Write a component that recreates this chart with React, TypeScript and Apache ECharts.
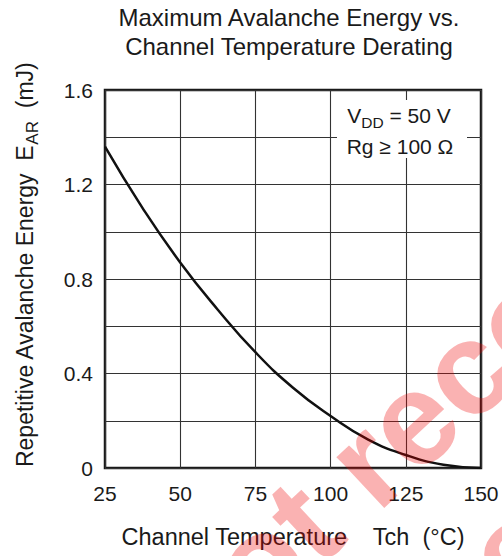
import React, { useEffect, useRef } from "react";
import * as echarts from "echarts";

const temps = [25, 37.5, 50, 62.5, 75, 87.5, 100, 112.5, 125, 137.5, 150];
const energy = [1.36, 1.1, 0.87, 0.67, 0.49, 0.34, 0.22, 0.12, 0.055, 0.014, 0];
const titleLines = ["Maximum Avalanche Energy vs.", "Channel Temperature Derating"];
const yLabelEvery = 0.4;

const FONT = "'Liberation Sans', Arial, Helvetica, sans-serif";

export default function App() {
  const ref = useRef<HTMLDivElement>(null);
  useEffect(() => {
    if (!ref.current) return;
    const chart = echarts.init(ref.current, null, { renderer: "svg" });
    const wm = "rgba(240,0,0,0.3)";
    chart.setOption({
      animation: false,
      backgroundColor: "#fff",
      textStyle: { fontFamily: FONT },
      grid: {
        left: 105,
        top: 90,
        right: 21,
        bottom: 88,
        show: true,
        borderColor: "#1a1a1a",
        borderWidth: 2.5,
        backgroundColor: "transparent",
      },
      xAxis: {
        type: "value",
        min: 25,
        max: 150,
        interval: 25,
        axisLine: { show: false },
        axisTick: { show: false },
        axisLabel: { color: "#1a1a1a", fontSize: 21, margin: 15, fontFamily: FONT },
        splitLine: { lineStyle: { color: "#333", width: 1.1 } },
        name: "Channel Temperature    Tch  (°C)",
        nameLocation: "middle",
        nameGap: 57,
        nameTextStyle: { color: "#1a1a1a", fontSize: 23.5, fontFamily: FONT },
      },
      yAxis: {
        type: "value",
        min: 0,
        max: 1.6,
        interval: 0.2,
        axisLine: { show: false },
        axisTick: { show: false },
        axisLabel: {
          color: "#1a1a1a",
          fontSize: 21,
          margin: 12,
          fontFamily: FONT,
          formatter: (v: number) => {
            const r = v / yLabelEvery;
            return Math.abs(r - Math.round(r)) < 1e-6 ? String(Math.round(v * 10) / 10) : "";
          },
        },
        splitLine: { lineStyle: { color: "#333", width: 1.1 } },
      },
      series: [
        {
          type: "line",
          data: temps.map((t, i) => [t, energy[i]]),
          smooth: true,
          showSymbol: false,
          lineStyle: { color: "#111", width: 2.5 },
          z: 3,
        },
      ],
      graphic: [
        {
          type: "text",
          x: 289,
          y: 3,
          z: 10,
          style: {
            text: titleLines.join("\n"),
            fill: "#1a1a1a",
            font: `24px ${FONT}`,
            lineHeight: 29,
            align: "center",
            verticalAlign: "top",
          },
        },
        {
          type: "text",
          x: 25,
          y: 265,
          rotation: Math.PI / 2,
          z: 10,
          style: {
            text: "{n|Repetitive Avalanche Energy  E}{s|AR}{n|  (mJ)}",
            align: "center",
            verticalAlign: "middle",
            rich: {
              n: { fontSize: 23, fontFamily: FONT, fill: "#1a1a1a", lineHeight: 32 },
              s: { fontSize: 17, fontFamily: FONT, fill: "#1a1a1a", lineHeight: 32, verticalAlign: "bottom" },
            },
          },
        },
        {
          type: "rect",
          z: 5,
          shape: { x: 337, y: 100, width: 130, height: 58 },
          style: { fill: "#fff" },
        },
        {
          type: "text",
          x: 399,
          y: 115,
          z: 10,
          style: {
            text: "{n|V}{s|DD}{n| = 50 V}",
            align: "center",
            verticalAlign: "middle",
            rich: {
              n: { fontSize: 21, fontFamily: FONT, fill: "#1a1a1a", lineHeight: 30 },
              s: { fontSize: 15.5, fontFamily: FONT, fill: "#1a1a1a", lineHeight: 30, verticalAlign: "bottom" },
            },
          },
        },
        {
          type: "text",
          x: 400,
          y: 146,
          z: 10,
          style: {
            text: "Rg ≥ 100 Ω",
            fill: "#1a1a1a",
            font: `21px ${FONT}`,
            align: "center",
            verticalAlign: "middle",
          },
        },
        {
          type: "group",
          x: 185,
          y: 684,
          rotation: 0.75,
          z: 50,
          children: [
            {
              type: "text",
              x: 0,
              y: 27,
              z: 50,
              style: {
                text: "Not recommended",
                fill: wm,
                font: `bold 132px ${FONT}`,
                align: "left",
                verticalAlign: "bottom",
              },
            },
            {
              type: "text",
              x: 0,
              y: 191,
              z: 50,
              style: {
                text: "for new design",
                fill: wm,
                font: `bold 132px ${FONT}`,
                align: "left",
                verticalAlign: "bottom",
              },
            },
          ],
        },
      ],
    });
    return () => chart.dispose();
  }, []);
  return (
    <div
      ref={ref}
      style={{ position: "absolute", left: 0, top: 0, width: 502, height: 556 }}
    />
  );
}
